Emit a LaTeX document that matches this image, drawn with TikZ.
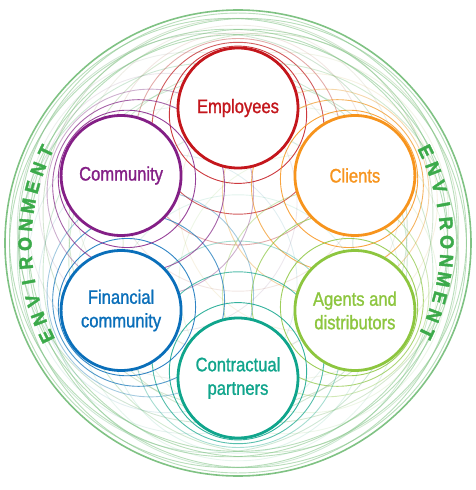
\documentclass[tikz,border=0pt]{standalone}
\usepackage{fontspec}
\setmainfont{Liberation Sans}[FakeStretch=0.85,FakeBold=1.2]
\newfontfamily\envfont{Liberation Sans Bold}[FakeStretch=0.95,FakeBold=2]
\definecolor{cEmp}{HTML}{C4161C}
\definecolor{cCli}{HTML}{F7941D}
\definecolor{cAge}{HTML}{8DC63F}
\definecolor{cCon}{HTML}{10A58C}
\definecolor{cFin}{HTML}{0A6FBA}
\definecolor{cCom}{HTML}{841F86}
\definecolor{cEnv}{HTML}{7FC283}
\definecolor{cEnvText}{HTML}{3BAA4A}
\begin{document}
\begin{tikzpicture}[x=1pt,y=1pt,
  stake/.style={circle, draw=#1, text=#1, fill=white, line width=2.8pt,
    minimum size=120pt, inner sep=0pt, align=center,
    font=\fontsize{19.5}{23.5}\selectfont},
  envletter/.style={text=cEnvText, inner sep=0pt,
    font=\envfont\fontsize{19}{19}\selectfont}]
\useasboundingbox (-238,-247) rectangle (237,243);
% interpolated ring families: t / share of stakeholder colour / opacity
\foreach \ang/\col in {90/cEmp,30/cCli,-30/cAge,-90/cCon,210/cFin,150/cCom} {
  \foreach \t/\m/\op in {0.05/100/0.85, 0.15/95/0.72, 0.25/85/0.4,
                         0.4/60/0.15, 0.6/30/0.15, 0.78/8/0.35, 0.92/0/0.55} {
    \pgfmathsetmacro\d{135*(1-\t)}
    \pgfmathsetmacro\r{60+173*\t}
    \draw[draw=\col!\m!cEnv, line width=0.9pt, draw opacity=\op]
      (\ang:\d pt) circle[radius=\r pt];
  }
}
% environment circle
\draw[cEnv, line width=1.6pt] (0,0) circle[radius=233pt];
% stakeholder circles
\node[stake=cEmp] (emp) at (90:135pt) {Employees};
\node[stake=cCli] (cli) at (30:135pt) {Clients};
\node[stake=cAge] (age) at (-30:135pt) {Agents and\\distributors};
\node[stake=cCon] (con) at (-90:135pt) {Contractual\\partners};
\node[stake=cFin] (fin) at (210:135pt) {Financial\\community};
\node[stake=cCom] (com) at (150:135pt) {Community};
% ENVIRONMENT labels
\foreach \l [count=\i from 0] in {E,N,V,I,R,O,N,M,E,N,T} {
  \pgfmathsetmacro\a{206-5.15*\i}
  \pgfmathsetmacro\ra{\a-90}
  \node[envletter, rotate=\ra] (envL\i) at (\a:213pt) {\l};
  \pgfmathsetmacro\b{26-5.15*\i}
  \pgfmathsetmacro\rb{\b-90}
  \node[envletter, rotate=\rb] (envR\i) at (\b:209pt) {\l};
}
\end{tikzpicture}
\end{document}
